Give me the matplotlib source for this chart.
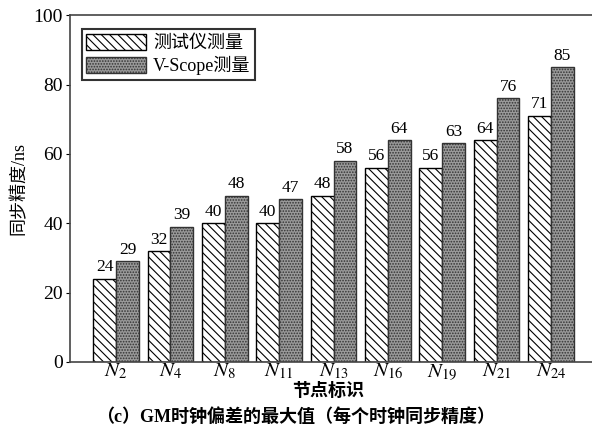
import numpy as np
import matplotlib
matplotlib.use("Agg")
import matplotlib.pyplot as plt

plt.rcParams["font.family"] = ["Liberation Serif", "Noto Sans CJK SC"]
plt.rcParams["mathtext.fontset"] = "stix"
plt.rcParams["hatch.linewidth"] = 0.8

# Data
nodes = ["2", "4", "8", "11", "13", "16", "19", "21", "24"]
tester = [24, 32, 40, 40, 48, 56, 56, 64, 71]
vscope = [29, 39, 48, 47, 58, 64, 63, 76, 85]

x = np.arange(len(nodes))
w = 0.42

fig = plt.figure(figsize=(5.92, 4.34), dpi=100)
ax = fig.add_axes([0.118, 0.166, 0.9, 0.799])

b1 = ax.bar(x - w / 2, tester, w, color="white", edgecolor="black",
            hatch="\\\\\\\\", linewidth=1.0, label="测试仪测量")
b2 = ax.bar(x + w / 2, vscope, w, color="#9a9a9a", edgecolor="#333333",
            hatch="......", linewidth=1.0, label="V-Scope测量")

for bars in (b1, b2):
    for r in bars:
        ax.text(r.get_x() + r.get_width() / 2, r.get_height() + 1,
                f"{int(r.get_height())}", ha="center", va="bottom", fontsize=12.5)

ax.set_ylim(0, 100)
ax.set_xlim(-0.85, 8.95)
ax.set_yticks(range(0, 101, 20))
ax.set_xticks(x)
ax.set_xticklabels([f"$N_{{{n}}}$" for n in nodes], fontsize=15)
ax.tick_params(axis="x", length=0, pad=0)
ax.tick_params(axis="y", direction="out", labelsize=14, length=3, pad=2)
for s in ax.spines.values():
    s.set_linewidth(1.2)
    s.set_color("#444444")

ax.set_ylabel("同步精度/ns", fontsize=13, labelpad=4)
fig.text(0.554, 0.099, "节点标识", ha="center", va="center",
         fontsize=13, fontweight="bold")

leg = ax.legend(loc="upper left", bbox_to_anchor=(0.005, 0.985), fontsize=13,
                frameon=True, fancybox=False, edgecolor="black",
                handlelength=3.3, handleheight=1.0, borderpad=0.25,
                labelspacing=0.2, handletextpad=0.4)
leg.get_frame().set_linewidth(1.5)

fig.text(0.5, 0.04, "（c）GM时钟偏差的最大值（每个时钟同步精度）",
         ha="center", va="center", fontsize=13, fontweight="bold")

fig.savefig("out.png", dpi=100)
